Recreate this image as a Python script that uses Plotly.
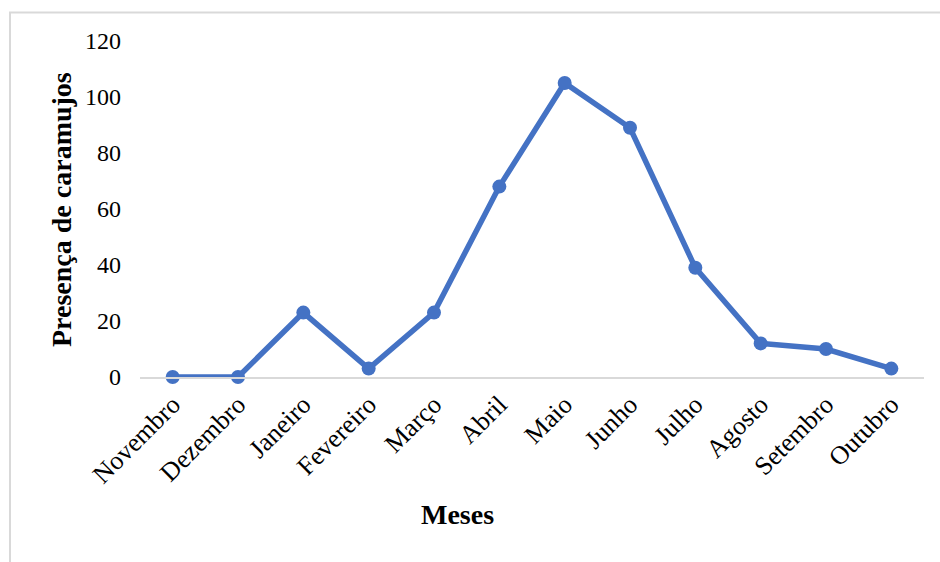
import plotly.graph_objects as go

# Monthly snail counts
meses = ["Novembro", "Dezembro", "Janeiro", "Fevereiro", "Março", "Abril",
         "Maio", "Junho", "Julho", "Agosto", "Setembro", "Outubro"]
presenca = [0, 0, 23, 3, 23, 68, 105, 89, 39, 12, 10, 3]
y_ticks = [0, 20, 40, 60, 80, 100, 120]

W, H = 940, 562
ML, MR, MT, MB = 140, 16, 41, 185
PW, PH = W - ML - MR, H - MT - MB


def px_x(x):
    return (x - ML) / PW


def px_y(y):
    return (H - MB - y) / PH


FONT = "Liberation Serif, Times New Roman, serif"
BLUE = "#4472C4"

fig = go.Figure(
    go.Scatter(
        x=meses,
        y=presenca,
        mode="lines+markers",
        line=dict(color=BLUE, width=5.5),
        marker=dict(color=BLUE, size=14),
        cliponaxis=False,
        showlegend=False,
    )
)

fig.update_layout(
    width=W,
    height=H,
    margin=dict(l=ML, r=MR, t=MT, b=MB),
    paper_bgcolor="white",
    plot_bgcolor="white",
    font=dict(family=FONT, color="black"),
    xaxis=dict(
        type="category",
        range=[-0.5, len(meses) - 0.5],
        showgrid=False,
        showline=True,
        linecolor="#d9d9d9",
        linewidth=2,
        ticks="",
        tickangle=-45,
        tickfont=dict(family=FONT, size=26, color="black"),
        zeroline=False,
    ),
    yaxis=dict(
        range=[0, 120],
        tickvals=y_ticks,
        showgrid=False,
        showline=False,
        zeroline=False,
        ticks="",
        ticklabelstandoff=18,
        tickfont=dict(family=FONT, size=24, color="black"),
    ),
    annotations=[
        dict(
            text="<b>Meses</b>",
            xref="paper", yref="paper",
            x=px_x(457), y=px_y(514),
            xanchor="center", yanchor="middle",
            showarrow=False,
            font=dict(family=FONT, size=28, color="black"),
        ),
        dict(
            text="<b>Presença de caramujos</b>",
            xref="paper", yref="paper",
            x=px_x(61), y=px_y(210),
            xanchor="center", yanchor="middle",
            textangle=-90,
            showarrow=False,
            font=dict(family=FONT, size=28, color="black"),
        ),
    ],
    shapes=[
        dict(
            type="rect",
            xref="paper", yref="paper",
            x0=px_x(10), x1=px_x(960),
            y0=px_y(580), y1=px_y(12.5),
            line=dict(color="#d9d9d9", width=2),
            fillcolor="rgba(0,0,0,0)",
            layer="below",
        )
    ],
)

fig.write_html("out.html")
